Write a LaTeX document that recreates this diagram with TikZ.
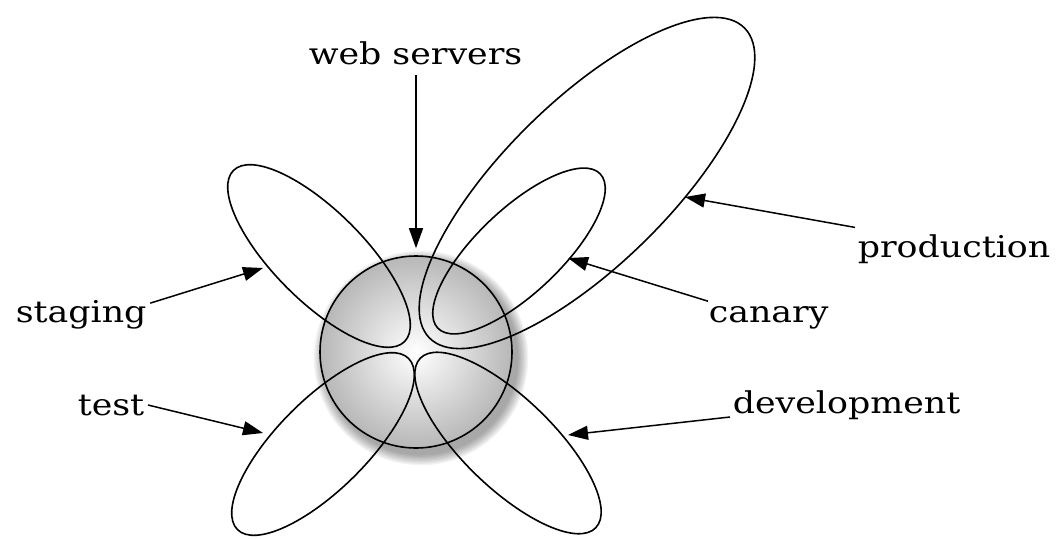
\documentclass[tikz,border=0pt]{standalone}
\usepackage{fontspec}
\setmainfont[FakeStretch=1.16]{DejaVu Serif}
\usepackage{tikz}
\usetikzlibrary{arrows.meta,shapes.geometric}

\begin{document}
\begin{tikzpicture}[x=1pt,y=1pt,line width=1.6pt]
  \tikzstyle{petal}=[draw,ellipse,inner sep=0pt,outer sep=0pt]
  \tikzstyle{lbl}=[font=\fontsize{30}{36}\selectfont,inner sep=0pt,anchor=base west]
  \tikzstyle{pointer}=[-{Triangle[length=20pt,width=14pt]},line width=1.5pt]
  \useasboundingbox (0,0) rectangle (1059,-538);
  % soft shadow under the ball
  \foreach \i in {1,...,8}
    \fill[black,opacity=0.05] (421,-358) circle ({96+1.4*\i});
  \node[circle,minimum size=192pt,inner sep=0pt,draw,
        shading=radial,inner color=white,outer color=black!28] (ball) at (416,-352) {};
  % the environments
  \node[petal,minimum width=242pt,minimum height=90pt,rotate=135]  (pstaging) at (319,-256) {};
  \node[petal,minimum width=242pt,minimum height=90pt,rotate=225]  (ptest)    at (323,-444) {};
  \node[petal,minimum width=244pt,minimum height=90pt,rotate=-44]  (pdev)     at (508,-443) {};
  \node[petal,minimum width=224pt,minimum height=84pt,rotate=43.5] (pcanary)  at (519,-251) {};
  \node[petal,minimum width=442pt,minimum height=164pt,rotate=44.5](pprod)    at (587,-183) {};
  % labels
  \node[lbl] (web)     at (308,-64)  {web servers};
  \node[lbl] (staging) at (15,-322)  {staging};
  \node[lbl] (test)    at (77,-415)  {test};
  \node[lbl] (prod)    at (857,-257) {production};
  \node[lbl] (canary)  at (708,-322) {canary};
  \node[lbl] (dev)     at (732,-413) {development};
  % arrow ends
  \coordinate (tstaging) at (263,-268);
  \coordinate (ttest)    at (263,-433);
  \coordinate (tprod)    at (685,-197);
  \coordinate (tcanary)  at (568,-258);
  \coordinate (tdev)     at (568,-435);
  \draw[pointer] ([yshift=-10pt]web.south -| ball.north) -- ([yshift=7pt]ball.north);
  \draw[pointer] ([xshift=3pt,yshift=-4pt]staging.north east) -- (tstaging);
  \draw[pointer] ([xshift=3pt]test.east) -- (ttest);
  \draw[pointer] ([xshift=-2pt,yshift=6pt]prod.north west) -- (tprod);
  \draw[pointer] ([yshift=4pt]canary.north west) -- (tcanary);
  \draw[pointer] ([xshift=-2pt,yshift=-4pt]dev.base west) -- (tdev);
\end{tikzpicture}
\end{document}
